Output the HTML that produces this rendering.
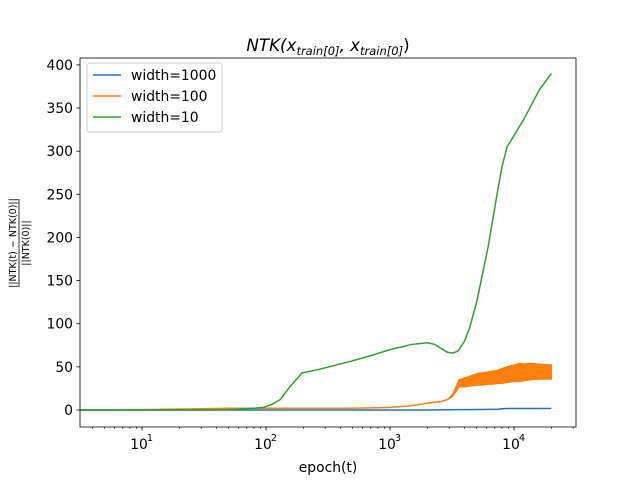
<!DOCTYPE html>
<html><head><meta charset="utf-8"><style>
body{margin:0;background:#fff}
svg{display:block;font-family:"DejaVu Sans","Liberation Sans",sans-serif}
</style></head><body>
<svg id="chart" width="640" height="480" viewBox="0 0 640 480">
<rect width="640" height="480" fill="#fff"/>
<g id="plot"></g>
</svg>
<script>
const epochs   = [3.16, 10, 30, 50, 80, 95, 110, 130, 156, 175, 195, 250, 470, 700, 1000, 1500, 2000, 2300, 2600, 2900, 3200, 3500, 3600, 4000, 4400, 5000, 5600, 6200, 6800, 7400, 8000, 8800, 10000, 11000, 12000, 13500, 16000, 20000];
const green    = [0, 0, 0, 0.5, 2, 3, 6, 12, 27, 35, 43, 46, 56, 63, 70, 76, 78, 76, 71, 67, 66, 68, 70, 80, 96, 125, 159, 190, 224, 255, 282, 305, 318, 328, 337, 351, 371, 390];
const orangeLo = [0, 0.5, 1.5, 2, 2, 2, 2, 2, 2, 2, 2, 2, 2, 2.5, 3, 5, 8, 9, 10, 12, 16, 24, 27, 27, 28, 29, 29, 30, 30, 31, 31, 32, 33, 33, 34, 35, 36, 36];
const orangeHi = [0, 0.5, 1.5, 2, 2, 2, 2, 2, 2, 2, 2, 2, 2, 2.5, 3, 5, 8, 9, 10, 12, 18, 30, 35, 37, 39, 42, 43, 44, 45, 46, 48, 50, 52, 54, 53, 54, 53, 52];
const blue     = [0, 0, 0, 0, 0, 0, 0, 0, 0, 0, 0, 0, 0, 0, 0, 0, 0, 0.1, 0.2, 0.3, 0.3, 0.4, 0.4, 0.5, 0.5, 0.6, 0.6, 0.7, 0.8, 0.9, 1.5, 1.7, 1.8, 1.8, 1.8, 1.8, 1.8, 1.8];
const yTicks = [0, 50, 100, 150, 200, 250, 300, 350, 400];
const xMajor = [1, 2, 3, 4];
const xMajorLabels = ["10", "10", "10", "10"];

const L=80,R=576,T=58,B=427;
const xmin=0.5,xmax=4.5,ymin=-19.7,ymax=408;
const sx=v=>L+(Math.log10(v)-xmin)/(xmax-xmin)*(R-L);
const sy=v=>B-(v-ymin)/(ymax-ymin)*(B-T);
const NS="http://www.w3.org/2000/svg";
const g=document.getElementById('plot');
function el(t,a,p){const e=document.createElementNS(NS,t);for(const k in a)e.setAttribute(k,a[k]);(p||g).appendChild(e);return e;}

const band=el('polygon',{points:epochs.map((e,i)=>sx(e)+','+sy(orangeHi[i])).concat(epochs.map((e,i)=>sx(e)+','+sy(orangeLo[i])).reverse()).join(' '),fill:'#ff7f0e',stroke:'#ff7f0e','stroke-width':1.5,'stroke-linejoin':'round'});


const bl=el('polyline',{points:epochs.map((e,i)=>sx(e)+','+sy(blue[i])).join(' '),fill:'none',stroke:'#1f77b4','stroke-width':1.5});


const gr=el('polyline',{points:epochs.map((e,i)=>sx(e)+','+sy(green[i])).join(' '),fill:'none',stroke:'#2ca02c','stroke-width':1.5,'stroke-linejoin':'round'});



const fr=el('rect',{x:L,y:T,width:R-L,height:B-T,fill:'none',stroke:'#000','stroke-width':0.8});



yTicks.forEach(v=>{const y=sy(v);el('line',{x1:L-3.5,x2:L,y1:y,y2:y,stroke:'#000','stroke-width':0.8});
 const t=el('text',{x:L-7,y:y+5,'text-anchor':'end','font-size':13.9});t.textContent=v;
 
 });
for(let d=0;d<=4;d++){for(let m=2;m<=9;m++){const v=m*Math.pow(10,d);const lv=Math.log10(v);if(lv<xmin||lv>xmax)continue;el('line',{x1:sx(v),x2:sx(v),y1:B,y2:B+2,stroke:'#000','stroke-width':0.6});}}
xMajor.forEach((p,i)=>{const x=sx(Math.pow(10,p));el('line',{x1:x,x2:x,y1:B,y2:B+3.5,stroke:'#000','stroke-width':0.8});
 const t=el('text',{x:x-3,y:B+22,'text-anchor':'middle','font-size':13.9});t.textContent=xMajorLabels[i];
 
 
 const s=el('text',{x:x+8,y:B+14,'text-anchor':'middle','font-size':9.7});s.textContent=p;});

const xl=el('text',{x:(L+R)/2,y:472,'text-anchor':'middle','font-size':13.9});xl.textContent='epoch(t)';


const yl=el('g',{transform:'translate(19,243) rotate(-90)'});


const n=el('text',{x:0,y:-3,'text-anchor':'middle','font-size':9.5},yl);n.textContent='||NTK(t) − NTK(0)||';
el('line',{x1:-44,x2:44,y1:0,y2:0,stroke:'#000','stroke-width':0.8},yl);
const dd=el('text',{x:0,y:10,'text-anchor':'middle','font-size':9.5},yl);dd.textContent='||NTK(0)||';
const ti=el('text',{x:(L+R)/2,y:51,'text-anchor':'middle','font-size':16.7,'font-style':'italic'});
ti.innerHTML='NTK(x<tspan font-size="11.5" dy="4">train[0]</tspan><tspan dy="-4">, x</tspan><tspan font-size="11.5" dy="4">train[0]</tspan><tspan dy="-4" font-style="normal">)</tspan>';



const lg=el('g',{});


el('rect',{x:87,y:63,width:135,height:69,rx:3,fill:'#fff','fill-opacity':0.8,stroke:'#ccc'},lg);
[['width=1000','#1f77b4'],['width=100','#ff7f0e'],['width=10','#2ca02c']].forEach((e,i)=>{const y=75+i*21;
 el('line',{x1:93,x2:121,y1:y,y2:y,stroke:e[1],'stroke-width':1.5},lg);
 const t=el('text',{x:131,y:y+5,'font-size':13.9},lg);t.textContent=e[0];
 
 });
</script>
</body></html>
